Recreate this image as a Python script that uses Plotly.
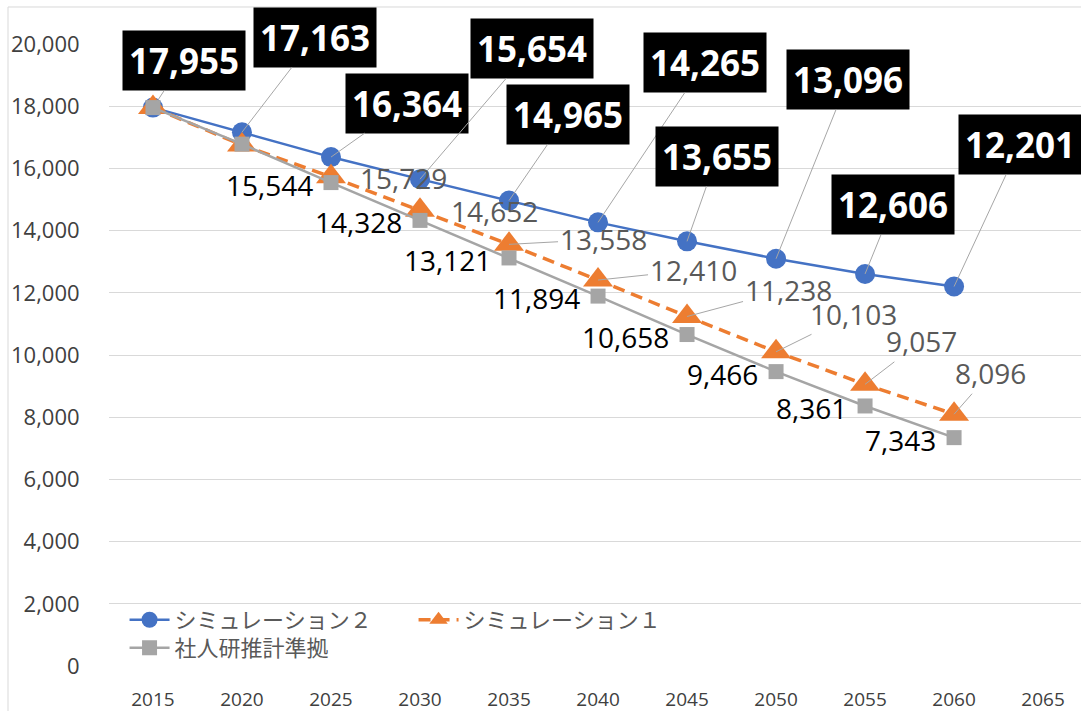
import plotly.graph_objects as go

# ---- data ----
years = [2015, 2020, 2025, 2030, 2035, 2040, 2045, 2050, 2055, 2060]
x_tick_values = [2015, 2020, 2025, 2030, 2035, 2040, 2045, 2050, 2055, 2060, 2065]
x_tick_labels = ["2015", "2020", "2025", "2030", "2035", "2040", "2045", "2050", "2055", "2060", "2065"]
y_tick_values = [0, 2000, 4000, 6000, 8000, 10000, 12000, 14000, 16000, 18000, 20000]

series_names = ["シミュレーション２", "シミュレーション１", "社人研推計準拠"]
sim2 = [17955, 17163, 16364, 15654, 14965, 14265, 13655, 13096, 12606, 12201]
sim1 = [17955, 16750, 15729, 14652, 13558, 12410, 11238, 10103, 9057, 8096]
ipss = [17955, 16780, 15544, 14328, 13121, 11894, 10658, 9466, 8361, 7343]

# which points carry a data label
sim2_labelled = [True] * 10
sim1_labelled = [False, False, True, True, True, True, True, True, True, True]
ipss_labelled = [False, False, True, True, True, True, True, True, True, True]

# ---- label placement (pixel offsets) ----
sim2_offsets = [(31, -47), (73, -95), (76, -54), (112, -131), (59, -86),
                (107, -160), (30, -85), (72, -179), (28, -69), (66, -142)]
sim1_offsets = [None, None, (73, 1), (74, 1), (94, -5), (95, -10),
                (101, -27), (77, -38), (56, -43), (36, -41)]
sim1_leader = [False, False, False, False, True, True, True, True, True, True]

BLUE = "#4472C4"
ORANGE = "#ED7D31"
GRAY = "#A5A5A5"
LEADER = "#A6A6A6"
FONT = "Open Sans"
CJK = "Noto Sans CJK JP"

fig = go.Figure()
fig.add_trace(go.Scatter(
    x=years, y=sim2, name=series_names[0], mode="lines+markers",
    line=dict(color=BLUE, width=2.5),
    marker=dict(symbol="circle", size=20, color=BLUE),
    cliponaxis=False, legend="legend",
))
fig.add_trace(go.Scatter(
    x=years, y=sim1, name=series_names[1], mode="lines+markers",
    line=dict(color=ORANGE, width=3.5, dash="12px,7px"),
    marker=dict(symbol="triangle-up", size=26, color=ORANGE),
    cliponaxis=False, legend="legend",
))
fig.add_trace(go.Scatter(
    x=years, y=ipss, name=series_names[2], mode="lines+markers",
    line=dict(color=GRAY, width=2.5),
    marker=dict(symbol="square", size=15, color=GRAY),
    cliponaxis=False, legend="legend2",
))

annotations = []
for i, (yr, v) in enumerate(zip(years, sim2)):
    if not sim2_labelled[i]:
        continue
    ax, ay = sim2_offsets[i]
    annotations.append(dict(
        x=yr, y=v, text=f"{v:,}", showarrow=True, ax=ax, ay=ay,
        arrowhead=0, arrowwidth=1, arrowcolor=LEADER, standoff=0,
        font=dict(family=FONT, size=35, color="white", weight="bold"),
        bgcolor="black", borderpad=6,
    ))
for i, (yr, v) in enumerate(zip(years, sim1)):
    if not sim1_labelled[i]:
        continue
    ax, ay = sim1_offsets[i]
    if sim1_leader[i]:
        annotations.append(dict(
            x=yr, y=v, text=f"{v:,}", showarrow=True, ax=ax, ay=ay,
            arrowhead=0, arrowwidth=1, arrowcolor=LEADER, standoff=0,
            font=dict(family=FONT, size=28, color="#595959"),
        ))
    else:
        annotations.append(dict(
            x=yr, y=v, text=f"{v:,}", showarrow=False,
            xshift=ax, yshift=-ay,
            font=dict(family=FONT, size=28, color="#595959"),
        ))
for i, (yr, v) in enumerate(zip(years, ipss)):
    if not ipss_labelled[i]:
        continue
    annotations.append(dict(
        x=yr, y=v, text=f"{v:,}", showarrow=False,
        xanchor="right", xshift=-16, yshift=-2,
        font=dict(family=FONT, size=28, color="black"),
    ))

legend_style = dict(
    orientation="h", xanchor="left", yanchor="middle",
    font=dict(family=CJK, size=22, color="#595959"),
    bgcolor="rgba(0,0,0,0)", itemwidth=40,
    traceorder="normal", tracegroupgap=0,
)

fig.update_layout(
    width=1081, height=711,
    margin=dict(l=109, r=0, t=44, b=45),
    paper_bgcolor="white", plot_bgcolor="white",
    showlegend=True,
    legend=dict(legend_style, x=0.016, y=0.074, entrywidth=234),
    legend2=dict(legend_style, x=0.016, y=0.029),
    xaxis=dict(
        range=[2012.53, 2067.13], tickmode="array",
        tickvals=x_tick_values, ticktext=x_tick_labels,
        showgrid=False, zeroline=False, showline=False,
        ticks="outside", ticklen=16, tickcolor="rgba(0,0,0,0)",
        tickfont=dict(family=FONT, size=19, color="#404040"),
    ),
    yaxis=dict(
        range=[0, 20000], tickmode="array", tickvals=y_tick_values,
        tickformat=",d", showgrid=True, gridcolor="#D9D9D9", gridwidth=1,
        zeroline=False, showline=False,
        ticks="outside", ticklen=24, tickcolor="rgba(0,0,0,0)",
        tickfont=dict(family=FONT, size=22, color="#404040"),
    ),
    annotations=annotations,
    shapes=[dict(type="rect", xref="paper", yref="paper",
                 x0=-0.1039, x1=1.05, y0=-0.2, y1=1.0595,
                 line=dict(color="#D9D9D9", width=1), layer="below")],
)

fig.write_html(
    "out.html",
    config={"displayModeBar": False},
    post_script="document.body.style.margin='0';document.body.style.overflow='hidden';",
)
